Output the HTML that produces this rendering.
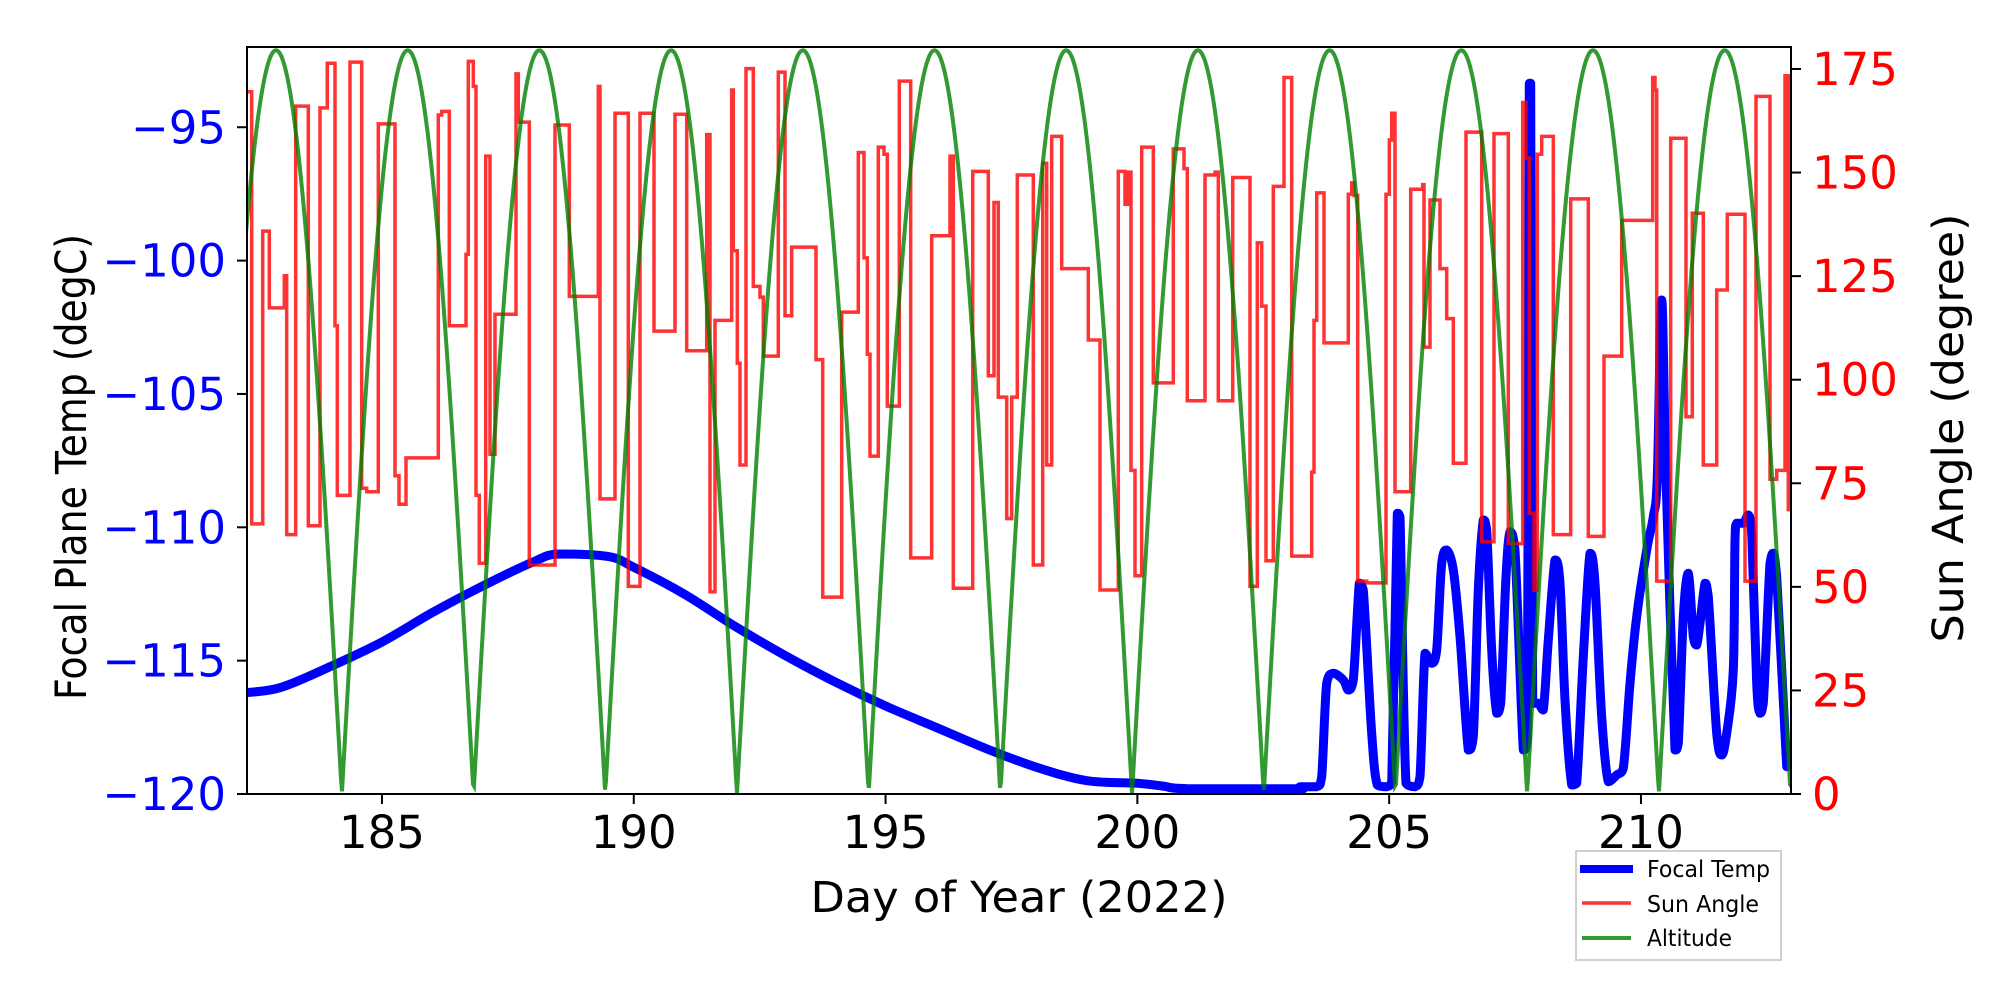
<!DOCTYPE html>
<html><head><meta charset="utf-8"><style>
html,body{margin:0;padding:0;background:#fff;}
svg{display:block;font-family:"DejaVu Sans","Liberation Sans",sans-serif;}
</style></head><body>
<svg id="s" width="2000" height="1000" xmlns="http://www.w3.org/2000/svg">
<defs><clipPath id="c"><rect x="247" y="47" width="1544" height="747"/></clipPath></defs>
<g clip-path="url(#c)">
<path id="blue" fill="none" stroke="#0000ff" stroke-width="9" stroke-linejoin="round" stroke-linecap="round"/>
<path id="red" fill="none" stroke="rgba(255,0,0,0.8)" stroke-width="3.5"/>
<path id="green" fill="none" stroke="rgba(0,128,0,0.8)" stroke-width="4"/>
</g>
<rect x="247" y="47" width="1544" height="747" fill="none" stroke="#000" stroke-width="2"/>
<g id="ticks" stroke="#000" stroke-width="2"></g>
<g id="labels"></g>
<text x="1019" y="912" font-size="43" text-anchor="middle" textLength="417" lengthAdjust="spacingAndGlyphs">Day of Year (2022)</text>
<text transform="translate(86,467) rotate(-90)" font-size="43" text-anchor="middle" textLength="466" lengthAdjust="spacingAndGlyphs">Focal Plane Temp (degC)</text>
<text transform="translate(1963,428) rotate(-90)" font-size="43" text-anchor="middle" textLength="429" lengthAdjust="spacingAndGlyphs">Sun Angle (degree)</text>
<rect x="1576" y="851" width="205" height="109" fill="#fff" stroke="#d0d0d0" stroke-width="2"/>
<line x1="1580" y1="869" x2="1633" y2="869" stroke="#0000ff" stroke-width="8"/>
<line x1="1582" y1="903" x2="1631" y2="903" stroke="rgba(255,0,0,0.8)" stroke-width="3.5"/>
<line x1="1582" y1="938" x2="1631" y2="938" stroke="rgba(0,128,0,0.8)" stroke-width="4"/>
<text x="1647" y="877" font-size="23" textLength="123" lengthAdjust="spacingAndGlyphs">Focal Temp</text>
<text x="1647" y="912" font-size="23" textLength="112" lengthAdjust="spacingAndGlyphs">Sun Angle</text>
<text x="1647" y="946" font-size="23" textLength="85" lengthAdjust="spacingAndGlyphs">Altitude</text>
</svg>
<script>
(function(){
var NS="http://www.w3.org/2000/svg";
function dx(d){return 247+(d-182.32)*50.36;}
function ty(t){return 794-(t+120)*26.67;}
function ay(a){return 794-a*4.143;}
var tk=document.getElementById("ticks"),lb=document.getElementById("labels");
function line(x1,y1,x2,y2){var l=document.createElementNS(NS,"line");l.setAttribute("x1",x1);l.setAttribute("y1",y1);l.setAttribute("x2",x2);l.setAttribute("y2",y2);tk.appendChild(l);}
function txt(x,y,s,anchor,col){var t=document.createElementNS(NS,"text");t.setAttribute("x",x);t.setAttribute("y",y);t.setAttribute("font-size","45");t.setAttribute("text-anchor",anchor);t.setAttribute("fill",col);t.textContent=s;lb.appendChild(t);}
for(var d=185;d<=210;d+=5){var x=dx(d);line(x,794,x,804);txt(x,848,String(d),"middle","#000");}
for(var t=-120;t<=-95;t+=5){var y=ty(t);line(237,y,247,y);txt(226,y+16,"\u2212"+(-t),"end","#0000ff");}
for(var a=0;a<=175;a+=25){var y=ay(a);line(1791,y,1801,y);txt(1812,y+16,String(a),"start","#ff0000");}
function steps(x0,str){var o=[];str.trim().split(/\s+/).forEach(function(p){var q=p.split(":");o.push([x0+(+q[0])/3,40+(+q[1])/2.8]);});return o;}
var r=[].concat(
steps(240,"22:145 35:1355 68:535 88:750 133:660 140:1385 167:185 205:1360 240:190 262:65 285:800 292:1275 330:62 365:1255 380:1265 415:235 465:1220 477:1300 498:1170 595:210 605:200 628:800 678:600 685:60 700:130 708:1275 718:1465 737:325 750:1160 765:768 828:95 835:230 868:1470 945:238 988:718 1075:130 1080:1285 1125:205 1165:1530 1200:205 1242:815 1305:208 1340:870 1400:265 1410:1545 1425:785 1475:140 1480:590 1492:905 1500:1190 1518:80 1540:690"),
steps(760,"0:720 10:885 55:90 75:772 95:580 168:895 188:1560 245:762 295:315 312:610 322:880 330:1165 355:300 372:320 382:1025 418:115 452:1450 515:548 570:325 580:1535 638:368 685:940 702:455 715:1000 740:1340 755:1000 772:378 820:1470 848:345 860:1190 875:270 905:640 985:840 1020:1540 1075:368 1095:460 1105:370 1113:1205 1125:1500 1145:300 1180:960 1240:305 1272:360 1282:1010 1335:378 1365:370 1375:1010 1418:385 1470:1530 1492:568 1505:745 1518:1458 1540:410"),
steps(1280,"0:410 12:105 35:1445 95:1210 102:785 110:428 132:848 205:432 215:400 222:435 233:1515 260:1520 318:432 328:280 335:205 345:1265 392:418 428:405 432:860 450:448 480:640 500:780 520:1185 558:258 605:1405 642:262 685:1410 728:175 738:330 748:1325 762:1540 772:320 785:270 820:1385 872:445 925:1390 972:885 1025:505 1118:105 1125:140 1130:1515 1172:275 1218:1055 1237:485 1270:1190 1310:700 1342:488 1395:1515 1428:158 1470:1230 1490:1205 1515:100 1525:1315"));
var d="M"+r[0][0].toFixed(1)+","+r[0][1].toFixed(1);
for(var i=1;i<r.length;i++){d+=" H"+r[i][0].toFixed(1)+" V"+r[i][1].toFixed(1);}
d+=" H1800";
document.getElementById("red").setAttribute("d",d);
var g="";for(var x=240;x<=1800;x+=1){var v=179.5*Math.abs(Math.cos(Math.PI*(x-276)/131.7));g+=(x==240?"M":"L")+x+","+ay(v).toFixed(1)+" ";}
document.getElementById("green").setAttribute("d",g);
var L=[[182.3,-116.2],[183,-116],[184,-115.2],[185,-114.3],[186,-113.2],[187,-112.2],[188,-111.3],[188.5,-111],[189.5,-111.1],[190,-111.5],[191,-112.5],[192,-113.7],[193,-114.8],[194,-115.8],[195,-116.7],[196,-117.5],[197,-118.3],[198,-119],[199,-119.5],[200,-119.6],[200.5,-119.7],[201,-119.8],[203.3,-119.8]];
var P=L.map(function(p){return [dx(p[0]),ty(p[1])];});
var Z=[[0,1010],[50,1010],[65,980],[80,700],[100,670],[130,690],[145,720],[160,690],[178,400],[190,420],[215,850],[232,1005],[260,1010],[275,995],[292,190],[300,200],[318,1000],[345,1010],[360,980],[375,610],[395,640],[410,600],[425,340],[440,300],[460,360],[480,560],[505,900],[520,860],[535,420],[550,210],[560,240],[575,600],[590,790],[602,760],[618,380],[630,245],[645,300],[670,900],[682,860],[688,-1100],[692,-1100],[698,760],[715,760],[730,780],[745,570],[765,330],[780,400],[795,750],[815,1005],[830,1000],[850,620],[870,310],[885,400],[905,800],[925,995],[950,975],[970,955],[990,700],[1010,500],[1040,300],[1060,200],[1072,80],[1085,-450],[1098,80],[1125,900],[1135,880],[1150,500],[1165,370],[1180,560],[1190,585],[1200,520],[1215,400],[1225,440],[1250,850],[1265,915],[1280,850],[1300,660],[1305,270],[1310,220],[1330,220],[1345,195],[1355,250],[1370,700],[1380,790],[1390,760],[1410,340],[1420,310],[1430,380],[1460,950]];
Z.forEach(function(p){P.push([1300+p[0]/3,450+p[1]/3]);});
function cl(v,a,b){var lo=Math.min(a,b),hi=Math.max(a,b);return Math.max(lo,Math.min(hi,v));}
var b="M"+P[0][0].toFixed(1)+","+P[0][1].toFixed(1);
for(var i=0;i<P.length-1;i++){
var p0=P[i>0?i-1:i],p1=P[i],p2=P[i+1],p3=P[i+2<P.length?i+2:i+1];
var k=6;
var c1x=p1[0]+(p2[0]-p0[0])/k,c1y=cl(p1[1]+(p2[1]-p0[1])/k,p1[1],p2[1]);
var c2x=p2[0]-(p3[0]-p1[0])/k,c2y=cl(p2[1]-(p3[1]-p1[1])/k,p1[1],p2[1]);
c1x=cl(c1x,p1[0],p2[0]);c2x=cl(c2x,p1[0],p2[0]);
b+=" C"+c1x.toFixed(1)+","+c1y.toFixed(1)+" "+c2x.toFixed(1)+","+c2y.toFixed(1)+" "+p2[0].toFixed(1)+","+p2[1].toFixed(1);
}
document.getElementById("blue").setAttribute("d",b);
})();
</script>
</body></html>
